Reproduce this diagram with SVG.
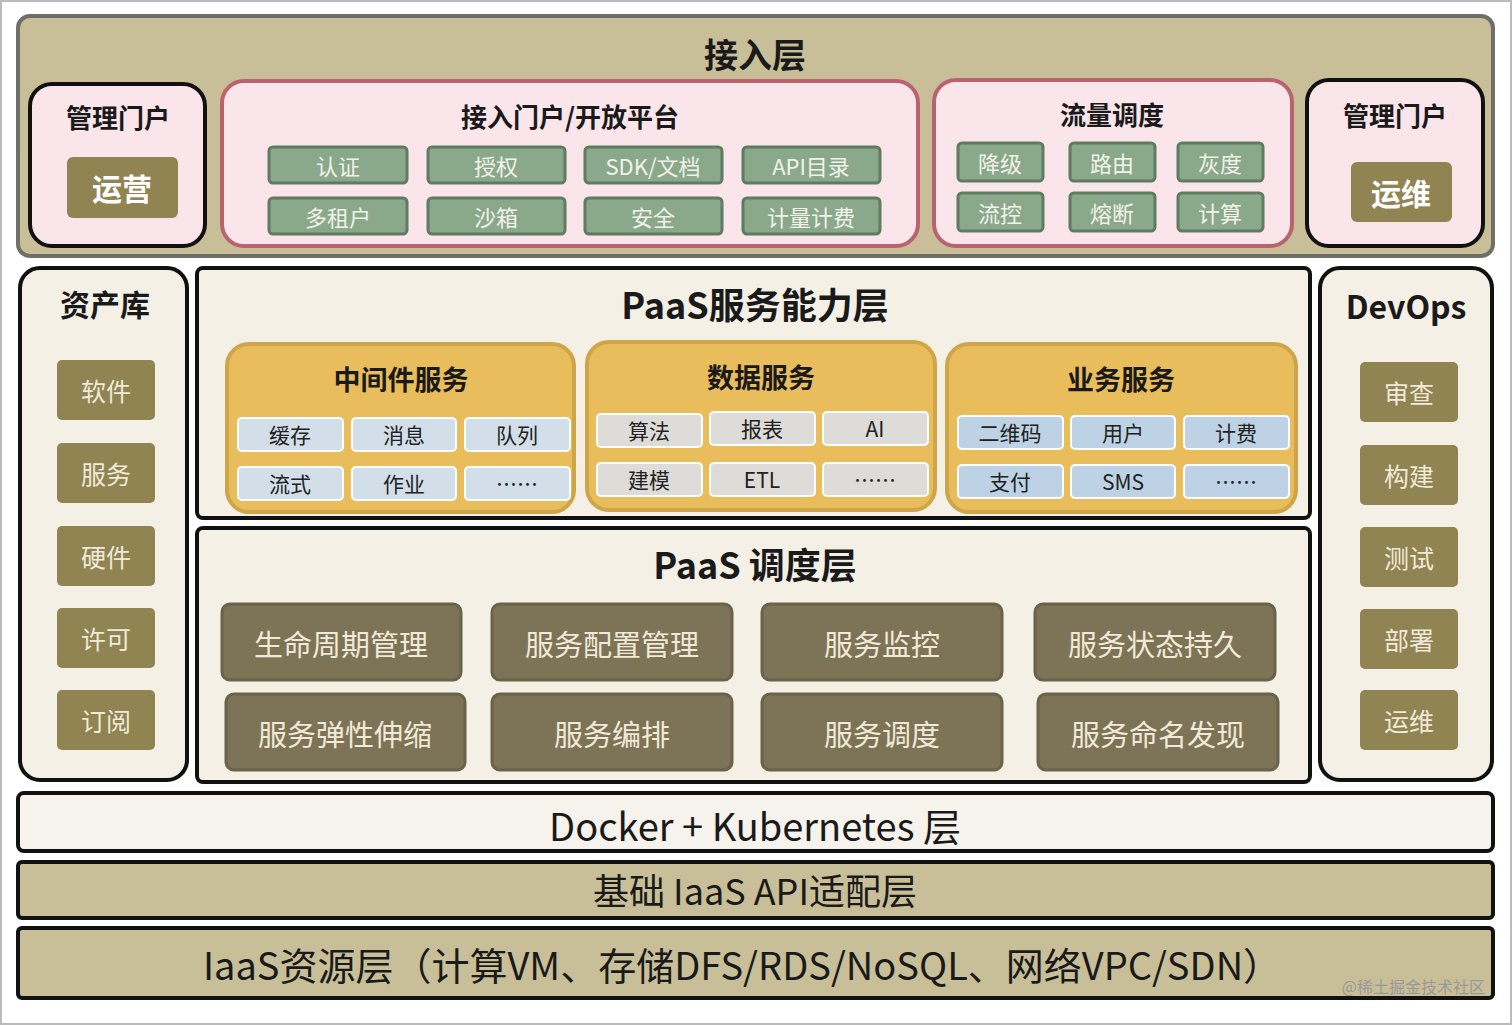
<svg xmlns="http://www.w3.org/2000/svg" width="1512" height="1025" viewBox="0 0 1512 1025">
<style>
text{font-family:"Noto Sans CJK SC","Noto Sans",sans-serif;text-anchor:middle;dominant-baseline:central}
.b{font-weight:bold;fill:#1a1a1a}
.pink{fill:#f9e5ea;stroke:#b8636f;stroke-width:4}
.blk{stroke:#111;stroke-width:4}
.grn{fill:#8aa98a;stroke:#5f7b60;stroke-width:3}
.gt{fill:#f2f2ea;font-size:22px}
.ol{fill:#8f8452}
.cream{fill:#f4f0e6}
.yel{fill:#e9bd5c;stroke:#cfa54a;stroke-width:4}
.blu{fill:#d2dfe9;stroke:#fff;stroke-width:2}
.gry{fill:#dedcd8;stroke:#fff;stroke-width:2}
.ct{fill:#222;font-size:21px}
.brn{fill:#7d7457;stroke:#6b6349;stroke-width:3}
.bt{fill:#f1ead8;font-size:29px}
.it{fill:#f1ead8;font-size:25px}
.tan{fill:#c8bf98}
</style>
<rect x="1" y="1" width="1510" height="1023" fill="#fff" stroke="#bbb" stroke-width="2"/>
<g id="access">
<rect x="18" y="16" width="1475" height="240" rx="12" class="tan" stroke="#6f6f6a" stroke-width="4"/>
<text x="755" y="53" class="b" font-size="34">接入层</text>
</g>
<g id="portal-left">
<rect x="30" y="84" width="175" height="162" rx="22" class="pink" style="stroke:#111"/>
<text x="118" y="116" class="b" font-size="26">管理门户</text>
<rect x="67" y="157" width="111" height="61" rx="6" class="ol"/>
<text x="122" y="187" fill="#fff" font-size="30" font-weight="bold">运营</text>
</g>
<g id="open-platform">
<rect x="222" y="81" width="696" height="165" rx="22" class="pink"/>
<text x="570" y="115" class="b" font-size="26">接入门户/开放平台</text>
<rect x="269" y="147" width="138" height="36" rx="4" class="grn"/><text x="338" y="165" class="gt">认证</text>
<rect x="428" y="147" width="137" height="36" rx="4" class="grn"/><text x="496" y="165" class="gt">授权</text>
<rect x="585" y="147" width="137" height="36" rx="4" class="grn"/><text x="653" y="165" class="gt">SDK/文档</text>
<rect x="743" y="147" width="137" height="36" rx="4" class="grn"/><text x="811" y="165" class="gt">API目录</text>
<rect x="269" y="198" width="138" height="36" rx="4" class="grn"/><text x="338" y="216" class="gt">多租户</text>
<rect x="428" y="198" width="137" height="36" rx="4" class="grn"/><text x="496" y="216" class="gt">沙箱</text>
<rect x="585" y="198" width="137" height="36" rx="4" class="grn"/><text x="653" y="216" class="gt">安全</text>
<rect x="743" y="198" width="137" height="36" rx="4" class="grn"/><text x="811" y="216" class="gt">计量计费</text>
</g>
<g id="traffic">
<rect x="934" y="80" width="358" height="166" rx="22" class="pink"/>
<text x="1112" y="113" class="b" font-size="26">流量调度</text>
<rect x="958" y="143" width="85" height="38" rx="4" class="grn"/><text x="1000" y="162" class="gt">降级</text>
<rect x="1070" y="143" width="85" height="38" rx="4" class="grn"/><text x="1112" y="162" class="gt">路由</text>
<rect x="1178" y="143" width="85" height="38" rx="4" class="grn"/><text x="1220" y="162" class="gt">灰度</text>
<rect x="958" y="193" width="85" height="38" rx="4" class="grn"/><text x="1000" y="212" class="gt">流控</text>
<rect x="1070" y="193" width="85" height="38" rx="4" class="grn"/><text x="1112" y="212" class="gt">熔断</text>
<rect x="1178" y="193" width="85" height="38" rx="4" class="grn"/><text x="1220" y="212" class="gt">计算</text>
</g>
<g id="portal-right">
<rect x="1307" y="80" width="176" height="166" rx="22" class="pink" style="stroke:#111"/>
<text x="1395" y="114" class="b" font-size="26">管理门户</text>
<rect x="1351" y="162" width="101" height="60" rx="6" class="ol"/>
<text x="1401" y="192" fill="#fff" font-size="30" font-weight="bold">运维</text>
</g>
<g id="assets">
<rect x="20" y="268" width="167" height="512" rx="20" class="cream blk"/>
<text x="105" y="303" class="b" font-size="30">资产库</text>
<rect x="57" y="360" width="98" height="60" rx="5" class="ol"/><text x="106" y="390" class="it">软件</text>
<rect x="57" y="443" width="98" height="60" rx="5" class="ol"/><text x="106" y="473" class="it">服务</text>
<rect x="57" y="526" width="98" height="60" rx="5" class="ol"/><text x="106" y="556" class="it">硬件</text>
<rect x="57" y="608" width="98" height="60" rx="5" class="ol"/><text x="106" y="638" class="it">许可</text>
<rect x="57" y="690" width="98" height="60" rx="5" class="ol"/><text x="106" y="720" class="it">订阅</text>
</g>
<g id="devops">
<rect x="1320" y="268" width="172" height="512" rx="20" class="cream blk"/>
<text x="1406" y="305" class="b" font-size="32">DevOps</text>
<rect x="1360" y="362" width="98" height="60" rx="5" class="ol"/><text x="1409" y="392" class="it">审查</text>
<rect x="1360" y="445" width="98" height="60" rx="5" class="ol"/><text x="1409" y="475" class="it">构建</text>
<rect x="1360" y="527" width="98" height="60" rx="5" class="ol"/><text x="1409" y="557" class="it">测试</text>
<rect x="1360" y="609" width="98" height="60" rx="5" class="ol"/><text x="1409" y="639" class="it">部署</text>
<rect x="1360" y="690" width="98" height="60" rx="5" class="ol"/><text x="1409" y="720" class="it">运维</text>
</g>
<g id="paas-capability">
<rect x="197" y="268" width="1113" height="250" rx="6" class="cream blk"/>
<text x="755" y="303" class="b" font-size="36">PaaS服务能力层</text>
</g>
<g id="middleware">
<rect x="227" y="344" width="347" height="168" rx="22" class="yel"/>
<text x="401" y="378" class="b" font-size="27">中间件服务</text>
<rect x="238" y="418" width="105" height="33" rx="4" class="blu"/><text x="290" y="434" class="ct">缓存</text>
<rect x="352" y="418" width="104" height="33" rx="4" class="blu"/><text x="404" y="434" class="ct">消息</text>
<rect x="465" y="418" width="105" height="33" rx="4" class="blu"/><text x="517" y="434" class="ct">队列</text>
<rect x="238" y="467" width="105" height="33" rx="4" class="blu"/><text x="290" y="483" class="ct">流式</text>
<rect x="352" y="467" width="104" height="33" rx="4" class="blu"/><text x="404" y="483" class="ct">作业</text>
<rect x="465" y="467" width="105" height="33" rx="4" class="blu"/><text x="517" y="483" class="ct">……</text>
</g>
<g id="data">
<rect x="587" y="342" width="348" height="168" rx="22" class="yel"/>
<text x="761" y="376" class="b" font-size="27">数据服务</text>
<rect x="597" y="414" width="105" height="33" rx="4" class="gry"/><text x="649" y="430" class="ct">算法</text>
<rect x="710" y="412" width="105" height="33" rx="4" class="gry"/><text x="762" y="428" class="ct">报表</text>
<rect x="823" y="412" width="105" height="33" rx="4" class="gry"/><text x="875" y="428" class="ct">AI</text>
<rect x="597" y="463" width="105" height="33" rx="4" class="gry"/><text x="649" y="479" class="ct">建模</text>
<rect x="710" y="463" width="105" height="33" rx="4" class="gry"/><text x="762" y="479" class="ct">ETL</text>
<rect x="823" y="463" width="105" height="33" rx="4" class="gry"/><text x="875" y="479" class="ct">……</text>
</g>
<g id="business">
<rect x="947" y="344" width="349" height="168" rx="22" class="yel"/>
<text x="1121" y="378" class="b" font-size="27">业务服务</text>
<rect x="958" y="416" width="105" height="33" rx="4" class="blu" style="fill:#bdd3e5"/><text x="1010" y="432" class="ct">二维码</text>
<rect x="1071" y="416" width="104" height="33" rx="4" class="blu" style="fill:#bdd3e5"/><text x="1123" y="432" class="ct">用户</text>
<rect x="1184" y="416" width="105" height="33" rx="4" class="blu" style="fill:#bdd3e5"/><text x="1236" y="432" class="ct">计费</text>
<rect x="958" y="465" width="105" height="33" rx="4" class="blu" style="fill:#bdd3e5"/><text x="1010" y="481" class="ct">支付</text>
<rect x="1071" y="465" width="104" height="33" rx="4" class="blu" style="fill:#bdd3e5"/><text x="1123" y="481" class="ct">SMS</text>
<rect x="1184" y="465" width="105" height="33" rx="4" class="blu" style="fill:#bdd3e5"/><text x="1236" y="481" class="ct">……</text>
</g>
<g id="paas-schedule">
<rect x="197" y="528" width="1113" height="254" rx="6" class="cream blk"/>
<text x="755" y="563" class="b" font-size="36">PaaS 调度层</text>
<rect x="222" y="604" width="239" height="76" rx="8" class="brn"/><text x="341" y="643" class="bt">生命周期管理</text>
<rect x="492" y="604" width="240" height="76" rx="8" class="brn"/><text x="612" y="643" class="bt">服务配置管理</text>
<rect x="762" y="604" width="240" height="76" rx="8" class="brn"/><text x="882" y="643" class="bt">服务监控</text>
<rect x="1035" y="604" width="240" height="76" rx="8" class="brn"/><text x="1155" y="643" class="bt">服务状态持久</text>
<rect x="226" y="694" width="239" height="76" rx="8" class="brn"/><text x="345" y="733" class="bt">服务弹性伸缩</text>
<rect x="492" y="694" width="240" height="76" rx="8" class="brn"/><text x="612" y="733" class="bt">服务编排</text>
<rect x="762" y="694" width="240" height="76" rx="8" class="brn"/><text x="882" y="733" class="bt">服务调度</text>
<rect x="1038" y="694" width="240" height="76" rx="8" class="brn"/><text x="1158" y="733" class="bt">服务命名发现</text>
</g>
<g id="docker">
<rect x="18" y="793" width="1475" height="58" rx="6" fill="#f6f3ec" class="blk"/>
<text x="755" y="824" font-size="38" fill="#1a1a1a">Docker + Kubernetes 层</text>
</g>
<g id="iaas-api">
<rect x="18" y="862" width="1475" height="56" rx="4" class="tan blk"/>
<text x="755" y="889" font-size="36" fill="#1a1a1a">基础 IaaS API适配层</text>
</g>
<g id="iaas">
<rect x="18" y="928" width="1475" height="70" rx="4" class="tan blk"/>
<text x="742" y="963" font-size="38" fill="#1a1a1a">IaaS资源层（计算VM、存储DFS/RDS/NoSQL、网络VPC/SDN）</text>
</g>
<g id="connectors"></g>
<text x="1485" y="986" font-size="16" fill="#999" style="text-anchor:end">@稀土掘金技术社区</text>
</svg>
